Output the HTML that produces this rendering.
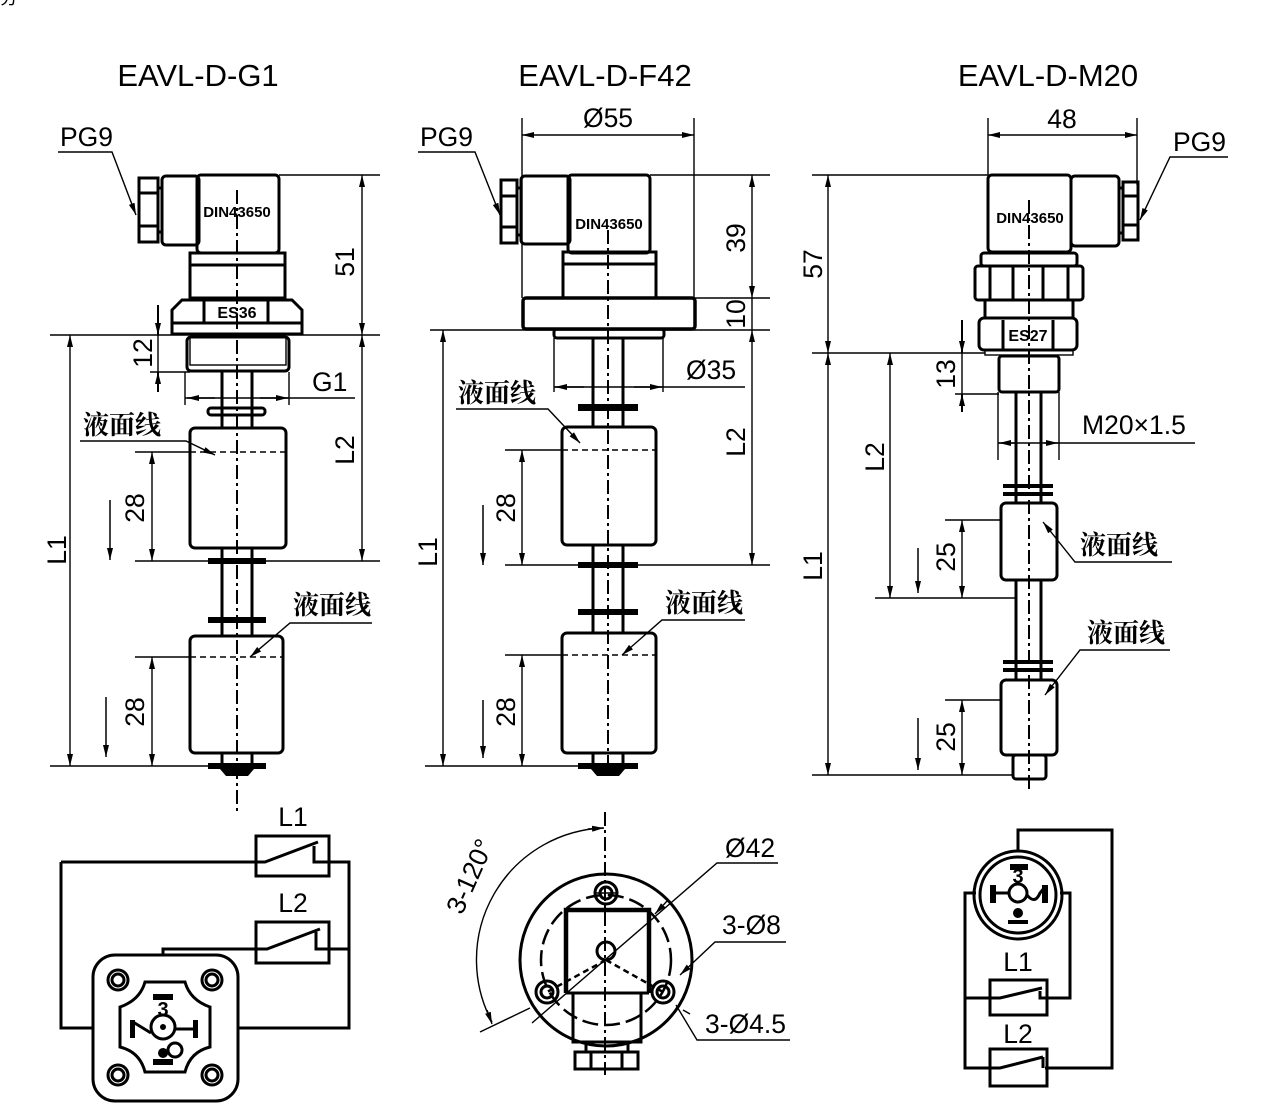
<!DOCTYPE html>
<html><head><meta charset="utf-8"><style>
html,body{margin:0;padding:0;background:#fff;}
svg{display:block;}
text{font-family:"Liberation Sans","Noto Sans CJK SC",sans-serif;fill:#000;}
.t{font-size:26.5px;}
.ti{font-size:31px;}
.cn{font-size:26px;font-family:"Liberation Sans","Noto Serif CJK SC",serif;font-weight:bold;}
.s{font-size:15px;font-weight:bold;}
.k{stroke:#000;stroke-width:3;fill:none;}
.k2{stroke:#000;stroke-width:3;fill:none;}
.th{stroke:#000;stroke-width:1.4;fill:none;}
.c{stroke:#000;stroke-width:2;fill:none;stroke-dasharray:14 4 3 4;}
.d{stroke:#000;stroke-width:1.4;fill:none;stroke-dasharray:6 4;}
.dim{stroke:#000;stroke-width:1.4;fill:none;marker-start:url(#a);marker-end:url(#a);}
.ld{stroke:#000;stroke-width:1.4;fill:none;marker-end:url(#a);}
.ar{stroke:#000;stroke-width:2;fill:none;marker-end:url(#a);}
</style></head><body>
<svg width="1265" height="1113" viewBox="0 0 1265 1113" xmlns="http://www.w3.org/2000/svg">
<defs>
<marker id="a" viewBox="0 0 12 6" refX="12" refY="3" markerWidth="12" markerHeight="6" markerUnits="userSpaceOnUse" orient="auto-start-reverse"><path d="M0,0 L12,3 L0,6 z" fill="#000"/></marker>
</defs>
<text x="0" y="4" class="t" style="font-size:18px">分</text>

<text x="198" y="86" class="ti" text-anchor="middle">EAVL-D-G1</text>
<text x="605" y="86" class="ti" text-anchor="middle">EAVL-D-F42</text>
<text x="1048" y="86" class="ti" text-anchor="middle">EAVL-D-M20</text>

<!-- COLUMN 1 -->
<text x="60" y="146" class="t">PG9</text>
<polyline points="58,152 112,152 136,215" class="ld"/>
<rect x="139" y="178" width="19" height="64" class="k2"/>
<line x1="139" y1="193" x2="158" y2="193" class="k2"/><line x1="139" y1="226" x2="158" y2="226" class="k2"/>
<line x1="158" y1="188" x2="162" y2="188" class="k2"/><line x1="158" y1="232" x2="162" y2="232" class="k2"/>
<rect x="162" y="176" width="37" height="69" rx="4" class="k2"/>
<rect x="197" y="175" width="82" height="78" rx="4" class="k2"/>
<text x="237" y="217" class="s" text-anchor="middle">DIN43650</text>
<rect x="190" y="253" width="95" height="45" class="k2"/>
<line x1="190" y1="265" x2="285" y2="265" class="k2"/>
<path d="M172,310 L182,300 L292,300 L302,310 L302,334 L172,334 Z" class="k2"/>
<line x1="172" y1="323" x2="302" y2="323" class="k2"/>
<line x1="204" y1="301" x2="204" y2="323" class="k2"/><line x1="268" y1="301" x2="268" y2="323" class="k2"/>
<text x="237" y="318" class="s" text-anchor="middle" style="font-size:16px">ES36</text>
<rect x="187" y="337" width="102" height="34" rx="4" class="k2"/>
<rect x="190" y="337" width="96" height="28" class="th"/>
<line x1="222" y1="371" x2="222" y2="428" class="k2"/><line x1="252" y1="371" x2="252" y2="428" class="k2"/>
<rect x="208" y="408" width="57" height="7" rx="3" class="k2"/>
<rect x="190" y="428" width="96" height="120" rx="5" class="k2"/>
<line x1="190" y1="452" x2="286" y2="452" class="d"/>
<line x1="222" y1="548" x2="222" y2="636" class="k2"/><line x1="252" y1="548" x2="252" y2="636" class="k2"/>
<rect x="208" y="558" width="58" height="6" fill="#000"/>
<rect x="208" y="617" width="58" height="6" fill="#000"/>
<rect x="190" y="636" width="93" height="117" rx="5" class="k2"/>
<line x1="190" y1="657" x2="283" y2="657" class="d"/>
<line x1="222" y1="753" x2="222" y2="766" class="k2"/><line x1="252" y1="753" x2="252" y2="766" class="k2"/>
<rect x="208" y="763" width="58" height="6" fill="#000"/>
<path d="M220,769 L254,769 L248,776 L226,776 Z" fill="#000"/>
<line x1="237" y1="190" x2="237" y2="815" class="c"/>
<line x1="279" y1="175" x2="380" y2="175" class="th"/>
<line x1="50" y1="335" x2="380" y2="335" class="th"/>
<line x1="362" y1="175" x2="362" y2="335" class="dim"/>
<text x="0" y="0" class="t" transform="translate(354,262) rotate(-90)" text-anchor="middle">51</text>
<line x1="362" y1="335" x2="362" y2="561" class="dim"/>
<text x="0" y="0" class="t" transform="translate(354,450) rotate(-90)" text-anchor="middle">L2</text>
<line x1="135" y1="561" x2="380" y2="561" class="th"/>
<line x1="70" y1="335" x2="70" y2="766" class="dim"/>
<text x="0" y="0" class="t" transform="translate(66,550) rotate(-90)" text-anchor="middle">L1</text>
<line x1="50" y1="766" x2="210" y2="766" class="th"/>
<line x1="150" y1="372" x2="190" y2="372" class="th"/>
<line x1="158" y1="305" x2="158" y2="335" class="ar"/>
<line x1="158" y1="392" x2="158" y2="372" class="ar"/>
<line x1="158" y1="335" x2="158" y2="372" class="th"/>
<text x="0" y="0" class="t" transform="translate(152,353) rotate(-90)" text-anchor="middle">12</text>
<line x1="185" y1="372" x2="185" y2="405" class="th"/><line x1="289" y1="372" x2="289" y2="405" class="th"/>
<line x1="185" y1="398" x2="355" y2="398" class="th"/>
<line x1="215" y1="398" x2="187" y2="398" class="ld"/>
<line x1="260" y1="398" x2="288" y2="398" class="ld"/>
<text x="312" y="391" class="t">G1</text>
<line x1="135" y1="452" x2="190" y2="452" class="th"/>
<line x1="152" y1="452" x2="152" y2="561" class="dim"/>
<text x="0" y="0" class="t" transform="translate(144,508) rotate(-90)" text-anchor="middle">28</text>
<line x1="110" y1="500" x2="110" y2="560" class="ar" style="stroke-width:1.5"/>
<line x1="135" y1="657" x2="190" y2="657" class="th"/>
<line x1="152" y1="657" x2="152" y2="766" class="dim"/>
<text x="0" y="0" class="t" transform="translate(144,712) rotate(-90)" text-anchor="middle">28</text>
<line x1="106" y1="697" x2="106" y2="757" class="ar" style="stroke-width:1.5"/>
<text x="83" y="434" class="cn">液面线</text>
<polyline points="80,441 186,441 215,455" class="ld"/>
<text x="293" y="614" class="cn">液面线</text>
<polyline points="372,623 290,623 250,657" class="ld"/>

<!-- COLUMN 2 -->
<text x="420" y="146" class="t">PG9</text>
<polyline points="418,152 475,152 500,215" class="ld"/>
<line x1="522" y1="118" x2="522" y2="298" class="th"/><line x1="694" y1="118" x2="694" y2="298" class="th"/>
<line x1="522" y1="135" x2="694" y2="135" class="dim"/>
<text x="608" y="127" class="t" text-anchor="middle">Ø55</text>
<rect x="501" y="180" width="16" height="63" class="k2"/>
<line x1="501" y1="196" x2="517" y2="196" class="k2"/><line x1="501" y1="227" x2="517" y2="227" class="k2"/>
<line x1="517" y1="188" x2="521" y2="188" class="k2"/><line x1="517" y1="235" x2="521" y2="235" class="k2"/>
<rect x="521" y="176" width="49" height="68" rx="4" class="k2"/>
<rect x="568" y="175" width="82" height="78" rx="4" class="k2"/>
<text x="609" y="229" class="s" text-anchor="middle">DIN43650</text>
<rect x="563" y="252" width="93" height="46" class="k2"/>
<line x1="563" y1="264" x2="656" y2="264" class="k2"/>
<rect x="523" y="298" width="172" height="31" rx="3" class="k" style="stroke-width:3.5"/>
<rect x="554" y="329" width="110" height="9" rx="3" class="k2"/>
<line x1="593" y1="338" x2="593" y2="427" class="k2"/><line x1="623" y1="338" x2="623" y2="427" class="k2"/>
<rect x="578" y="404" width="60" height="7" fill="#000"/>
<rect x="562" y="427" width="94" height="118" rx="5" class="k2"/>
<line x1="562" y1="450" x2="656" y2="450" class="d"/>
<line x1="593" y1="545" x2="593" y2="633" class="k2"/><line x1="623" y1="545" x2="623" y2="633" class="k2"/>
<rect x="578" y="562" width="60" height="6" fill="#000"/>
<rect x="578" y="609" width="60" height="6" fill="#000"/>
<rect x="562" y="633" width="94" height="120" rx="5" class="k2"/>
<line x1="562" y1="655" x2="656" y2="655" class="d"/>
<line x1="593" y1="753" x2="593" y2="766" class="k2"/><line x1="623" y1="753" x2="623" y2="766" class="k2"/>
<rect x="578" y="763" width="60" height="6" fill="#000"/>
<path d="M591,769 L625,769 L619,776 L597,776 Z" fill="#000"/>
<line x1="608" y1="230" x2="608" y2="780" class="c"/>
<line x1="650" y1="175" x2="770" y2="175" class="th"/>
<line x1="695" y1="298" x2="770" y2="298" class="th"/>
<line x1="430" y1="330" x2="770" y2="330" class="th"/>
<line x1="752" y1="175" x2="752" y2="298" class="dim"/>
<text x="0" y="0" class="t" transform="translate(745,238) rotate(-90)" text-anchor="middle">39</text>
<line x1="752" y1="298" x2="752" y2="330" class="th"/>
<text x="0" y="0" class="t" transform="translate(745,314) rotate(-90)" text-anchor="middle">10</text>
<line x1="752" y1="330" x2="752" y2="565" class="dim"/>
<text x="0" y="0" class="t" transform="translate(745,442) rotate(-90)" text-anchor="middle">L2</text>
<line x1="505" y1="565" x2="770" y2="565" class="th"/>
<line x1="443" y1="330" x2="443" y2="766" class="dim"/>
<text x="0" y="0" class="t" transform="translate(437,552) rotate(-90)" text-anchor="middle">L1</text>
<line x1="425" y1="766" x2="580" y2="766" class="th"/>
<line x1="554" y1="338" x2="554" y2="392" class="th"/><line x1="663" y1="338" x2="663" y2="392" class="th"/>
<line x1="554" y1="387" x2="745" y2="387" class="th"/>
<line x1="584" y1="387" x2="555" y2="387" class="ld"/>
<line x1="634" y1="387" x2="662" y2="387" class="ld"/>
<text x="686" y="379" class="t">Ø35</text>
<line x1="505" y1="450" x2="562" y2="450" class="th"/>
<line x1="522" y1="450" x2="522" y2="565" class="dim"/>
<text x="0" y="0" class="t" transform="translate(515,508) rotate(-90)" text-anchor="middle">28</text>
<line x1="483" y1="505" x2="483" y2="565" class="ar" style="stroke-width:1.5"/>
<line x1="505" y1="655" x2="562" y2="655" class="th"/>
<line x1="522" y1="655" x2="522" y2="766" class="dim"/>
<text x="0" y="0" class="t" transform="translate(515,712) rotate(-90)" text-anchor="middle">28</text>
<line x1="483" y1="700" x2="483" y2="758" class="ar" style="stroke-width:1.5"/>
<text x="458" y="402" class="cn">液面线</text>
<polyline points="456,409 548,409 580,443" class="ld"/>
<text x="665" y="612" class="cn">液面线</text>
<polyline points="745,620 662,620 622,655" class="ld"/>

<!-- COLUMN 3 -->
<line x1="988" y1="118" x2="988" y2="175" class="th"/><line x1="1137" y1="118" x2="1137" y2="185" class="th"/>
<line x1="988" y1="135" x2="1137" y2="135" class="dim"/>
<text x="1062" y="128" class="t" text-anchor="middle">48</text>
<text x="1173" y="151" class="t">PG9</text>
<polyline points="1228,157 1170,157 1140,220" class="ld"/>
<rect x="988" y="175" width="83" height="77" rx="4" class="k2"/>
<text x="1030" y="223" class="s" text-anchor="middle">DIN43650</text>
<rect x="1071" y="176" width="48" height="70" rx="4" class="k2"/>
<line x1="1119" y1="188" x2="1123" y2="188" class="k2"/><line x1="1119" y1="233" x2="1123" y2="233" class="k2"/>
<rect x="1123" y="182" width="15" height="58" class="k2"/>
<line x1="1123" y1="196" x2="1138" y2="196" class="k2"/><line x1="1123" y1="225" x2="1138" y2="225" class="k2"/>
<rect x="981" y="253" width="96" height="13" rx="3" class="k2"/>
<rect x="975" y="266" width="108" height="34" rx="3" class="k2"/>
<line x1="990" y1="266" x2="990" y2="300" class="k2"/><line x1="1013" y1="266" x2="1013" y2="300" class="k2"/>
<line x1="1043" y1="266" x2="1043" y2="300" class="k2"/><line x1="1068" y1="266" x2="1068" y2="300" class="k2"/>
<rect x="985" y="300" width="88" height="18" class="k2"/>
<rect x="979" y="318" width="98" height="32" rx="5" class="k2"/>
<line x1="1003" y1="320" x2="1003" y2="349" class="k2"/><line x1="1053" y1="320" x2="1053" y2="349" class="k2"/>
<text x="1028" y="341" class="s" text-anchor="middle" style="font-size:16px">ES27</text>
<rect x="985" y="350" width="88" height="5" class="th"/>
<rect x="999" y="356" width="60" height="36" rx="3" class="k" style="stroke-width:3"/>
<line x1="1016" y1="392" x2="1016" y2="503" class="k2"/><line x1="1041" y1="392" x2="1041" y2="503" class="k2"/>
<rect x="1003" y="484" width="50" height="4" fill="#000"/>
<rect x="1003" y="492" width="50" height="4" fill="#000"/>
<rect x="1001" y="503" width="56" height="77" rx="5" class="k2"/>
<line x1="1016" y1="580" x2="1016" y2="680" class="k2"/><line x1="1041" y1="580" x2="1041" y2="680" class="k2"/>
<rect x="1003" y="660" width="50" height="4" fill="#000"/>
<rect x="1003" y="668" width="50" height="4" fill="#000"/>
<rect x="1001" y="680" width="56" height="75" rx="5" class="k2"/>
<rect x="1013" y="755" width="33" height="24" rx="3" class="k2"/>
<line x1="1029" y1="200" x2="1029" y2="790" class="c"/>
<line x1="812" y1="175" x2="988" y2="175" class="th"/>
<line x1="812" y1="353" x2="985" y2="353" class="th"/>
<line x1="828" y1="175" x2="828" y2="353" class="dim"/>
<text x="0" y="0" class="t" transform="translate(822,264) rotate(-90)" text-anchor="middle">57</text>
<line x1="828" y1="353" x2="828" y2="775" class="dim"/>
<text x="0" y="0" class="t" transform="translate(822,566) rotate(-90)" text-anchor="middle">L1</text>
<line x1="812" y1="775" x2="1013" y2="775" class="th"/>
<line x1="890" y1="353" x2="890" y2="598" class="dim"/>
<text x="0" y="0" class="t" transform="translate(884,457) rotate(-90)" text-anchor="middle">L2</text>
<line x1="875" y1="598" x2="1016" y2="598" class="th"/>
<line x1="962" y1="320" x2="962" y2="353" class="ar"/>
<line x1="962" y1="412" x2="962" y2="394" class="ar"/>
<line x1="962" y1="353" x2="962" y2="394" class="th"/>
<line x1="955" y1="394" x2="999" y2="394" class="th"/>
<text x="0" y="0" class="t" transform="translate(955,374) rotate(-90)" text-anchor="middle">13</text>
<line x1="998" y1="392" x2="998" y2="460" class="th"/><line x1="1059" y1="392" x2="1059" y2="460" class="th"/>
<line x1="998" y1="443" x2="1195" y2="443" class="th"/>
<line x1="1015" y1="443" x2="999" y2="443" class="ld"/>
<line x1="1044" y1="443" x2="1058" y2="443" class="ld"/>
<text x="1082" y="434" class="t">M20×1.5</text>
<line x1="945" y1="520" x2="1001" y2="520" class="th"/>
<line x1="962" y1="520" x2="962" y2="598" class="dim"/>
<text x="0" y="0" class="t" transform="translate(955,557) rotate(-90)" text-anchor="middle">25</text>
<line x1="918" y1="548" x2="918" y2="593" class="ar" style="stroke-width:1.5"/>
<line x1="945" y1="700" x2="1001" y2="700" class="th"/>
<line x1="962" y1="700" x2="962" y2="775" class="dim"/>
<text x="0" y="0" class="t" transform="translate(955,737) rotate(-90)" text-anchor="middle">25</text>
<line x1="918" y1="718" x2="918" y2="770" class="ar" style="stroke-width:1.5"/>
<text x="1080" y="554" class="cn">液面线</text>
<polyline points="1172,562 1075,562 1043,522" class="ld"/>
<text x="1087" y="642" class="cn">液面线</text>
<polyline points="1170,650 1080,650 1045,695" class="ld"/>

<!-- BOTTOM LEFT CIRCUIT -->
<text x="293" y="826" class="t" text-anchor="middle">L1</text>
<text x="293" y="912" class="t" text-anchor="middle">L2</text>
<rect x="256" y="836" width="73" height="40" class="k2"/>
<rect x="256" y="922" width="73" height="41" class="k2"/>
<polyline points="61,862 265,862 318,842" class="k2"/>
<polyline points="314,846 314,862 349,862 349,1028 237,1028" class="k2"/>
<polyline points="61,862 61,1028 93,1028" class="k2"/>
<polyline points="163,956 163,949 267,949 320,929" class="k2"/>
<polyline points="316,932 316,949 349,949" class="k2"/>
<rect x="93" y="955" width="145" height="146" rx="22" class="k2"/>
<g class="k2">
<circle cx="118" cy="980" r="10"/><circle cx="118" cy="980" r="6"/>
<circle cx="212" cy="980" r="10"/><circle cx="212" cy="980" r="6"/>
<circle cx="118" cy="1075" r="10"/><circle cx="118" cy="1075" r="6"/>
<circle cx="212" cy="1075" r="10"/><circle cx="212" cy="1075" r="6"/>
<path d="M145,982 L185,982 Q190,1000 210,1007 L210,1047 Q190,1052 185,1072 L145,1072 Q140,1052 120,1047 L120,1007 Q140,1000 145,982 Z"/>
<circle cx="163" cy="1027" r="12"/>
</g>
<circle cx="163" cy="1027" r="3" fill="#000"/>
<text x="163" y="1016" class="t" text-anchor="middle" style="font-weight:bold;font-size:20px">3</text>
<rect x="153" y="994" width="20" height="6" fill="#000"/>
<rect x="130" y="1020" width="5" height="18" fill="#000"/>
<line x1="133" y1="1022" x2="151" y2="1033" class="k2"/>
<rect x="193" y="1020" width="5" height="18" fill="#000"/>
<line x1="175" y1="1029" x2="195" y2="1029" class="k2"/>
<circle cx="175" cy="1050" r="7" class="k2"/><circle cx="163" cy="1053" r="5" fill="#000"/>
<rect x="153" y="1059" width="20" height="6" fill="#000"/>

<!-- BOTTOM MIDDLE FLANGE -->
<line x1="605" y1="812" x2="605" y2="1075" class="c"/>
<path d="M603,828 A132,132 0 0 0 492,1022" class="th"/>
<line x1="588" y1="829" x2="604" y2="828" class="ld"/>
<line x1="487" y1="1010" x2="492" y2="1024" class="ld"/>
<text x="0" y="0" class="t" transform="translate(478,880) rotate(-66)" text-anchor="middle">3-120°</text>
<circle cx="606" cy="960" r="86" class="k2"/>
<circle cx="606" cy="960" r="65" class="d" style="stroke-width:2.5;stroke-dasharray:16 6"/>
<g class="k2">
<circle cx="606" cy="893" r="11"/><circle cx="606" cy="893" r="6"/>
<circle cx="547" cy="992" r="11"/><circle cx="547" cy="992" r="6"/>
<circle cx="663" cy="992" r="11"/><circle cx="663" cy="992" r="6"/>
<circle cx="606" cy="951" r="9"/>
</g>
<line x1="596" y1="893" x2="616" y2="893" class="th"/>
<path d="M566,993 L566,910 L649,910 L649,993" class="k" style="stroke-width:4.5"/>
<line x1="566" y1="993" x2="649" y2="993" class="k2"/>
<line x1="606" y1="960" x2="547" y2="992" class="d" style="stroke-width:2.5"/>
<line x1="606" y1="960" x2="663" y2="992" class="d" style="stroke-width:2.5"/>
<rect x="573" y="993" width="68" height="49" class="k2"/>
<line x1="586" y1="1042" x2="586" y2="1052" class="k2"/><line x1="628" y1="1042" x2="628" y2="1052" class="k2"/>
<rect x="575" y="1052" width="63" height="17" class="k2"/>
<line x1="591" y1="1052" x2="591" y2="1069" class="k2"/><line x1="622" y1="1052" x2="622" y2="1069" class="k2"/>
<text x="725" y="857" class="t">Ø42</text>
<polyline points="778,863 717,863 532,1023" class="th"/>
<line x1="668" y1="900" x2="655" y2="914" class="ld"/>
<text x="722" y="934" class="t">3-Ø8</text>
<polyline points="786,942 715,942 680,975" class="ld"/>
<line x1="480" y1="1032" x2="530" y2="1008" class="th"/>
<line x1="683" y1="1010" x2="690" y2="1014" class="th"/>
<text x="705" y="1033" class="t">3-Ø4.5</text>
<polyline points="790,1040 697,1040 676,1005" class="th"/>

<!-- BOTTOM RIGHT CIRCUIT -->
<circle cx="1018" cy="895" r="44" class="k2"/>
<circle cx="1018" cy="895" r="38" class="k2"/>
<circle cx="1018" cy="893" r="9" class="k2"/>
<text x="1018" y="883" class="t" text-anchor="middle" style="font-weight:bold;font-size:20px">3</text>
<rect x="1010" y="864" width="18" height="6" fill="#000"/>
<rect x="990" y="885" width="6" height="18" fill="#000"/>
<line x1="996" y1="893" x2="1009" y2="893" class="k2"/>
<path d="M1027,895 Q1035,905 1040,893 L1045,887" class="k2"/>
<rect x="1042" y="885" width="6" height="18" fill="#000"/>
<circle cx="1018" cy="913" r="5" fill="#000"/>
<rect x="1008" y="920" width="20" height="4" fill="#000"/>
<polyline points="1018,851 1018,830 1112,830 1112,1068 1045,1068" class="k2"/>
<polyline points="976,893 965,893 965,1068 1000,1068 1043,1057" class="k2"/>
<polyline points="1060,893 1070,893 1070,998 1040,998 1040,991" class="k2"/>
<polyline points="965,998 1000,998 1042,988" class="k2"/>
<line x1="1043" y1="1057" x2="1043" y2="1068" class="k2"/>
<rect x="990" y="980" width="57" height="35" class="k2"/>
<rect x="990" y="1049" width="57" height="37" class="k2"/>
<text x="1018" y="971" class="t" text-anchor="middle">L1</text>
<text x="1018" y="1043" class="t" text-anchor="middle">L2</text>
</svg>
</body></html>
